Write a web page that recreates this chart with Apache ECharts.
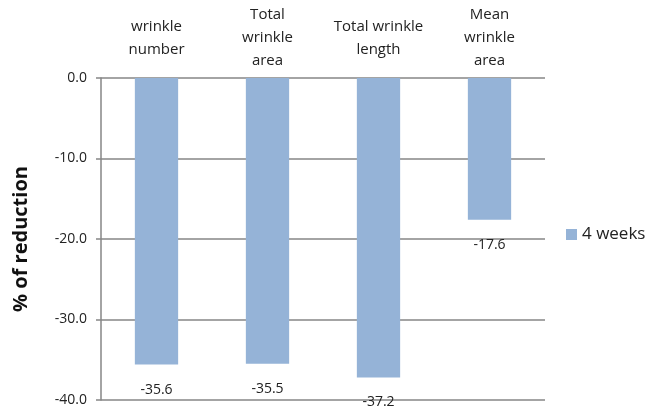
<!DOCTYPE html>
<html><head><meta charset="utf-8">
<script src="https://cdn.jsdelivr.net/npm/echarts@6/dist/echarts.min.js"></script>
<style>html,body{margin:0;padding:0;background:#fff}#c{width:663px;height:410px}</style>
</head><body><div id="c"></div>
<script>
const categories = ['wrinkle\nnumber', 'Total\nwrinkle\narea', 'Total wrinkle\nlength', 'Mean\nwrinkle\narea'];
const seriesName = '4 weeks';
const values = [-35.6, -35.5, -37.2, -17.6];
const yTicks = { min: -40, max: 0, interval: 10 };

const chart = echarts.init(document.getElementById('c'));
const font = 'Open Sans';
chart.setOption({
  animation: false,
  textStyle: { fontFamily: font },
  grid: { left: 101, right: 118, top: 78, bottom: 10, containLabel: false },
  legend: {
    data: [seriesName], left: 561, top: 221, icon: 'rect', itemWidth: 11, itemHeight: 11, itemGap: 6,
    textStyle: { fontSize: 17, color: '#222', fontFamily: font }
  },
  xAxis: {
    type: 'category', data: categories, position: 'top',
    axisLine: { show: false }, axisTick: { show: false },
    axisLabel: { color: '#222', fontSize: 15, lineHeight: 23, verticalAlign: 'middle', margin: 40, interval: 0, fontFamily: font }
  },
  yAxis: {
    type: 'value', min: yTicks.min, max: yTicks.max, interval: yTicks.interval,
    name: '% of reduction', nameLocation: 'middle', nameGap: 70, nameRotate: 90,
    nameTextStyle: { fontSize: 20, fontWeight: 'bold', color: '#111', fontFamily: font },
    axisLine: { show: true, lineStyle: { color: '#868686', width: 1.5 } },
    axisTick: { show: true, length: 5, lineStyle: { color: '#868686', width: 1.5 } },
    splitLine: { show: true, lineStyle: { color: '#868686', width: 1.5 } },
    axisLabel: { color: '#222', fontSize: 14, margin: 14, formatter: v => v.toFixed(1), fontFamily: font }
  },
  series: [{
    name: seriesName, type: 'bar', data: values, barWidth: '39%',
    itemStyle: { color: '#95B3D7' },
    label: { show: true, position: 'bottom', distance: 18, color: '#222', fontSize: 14, formatter: p => p.value.toFixed(1), fontFamily: font }
  }]
});
</script></body></html>
